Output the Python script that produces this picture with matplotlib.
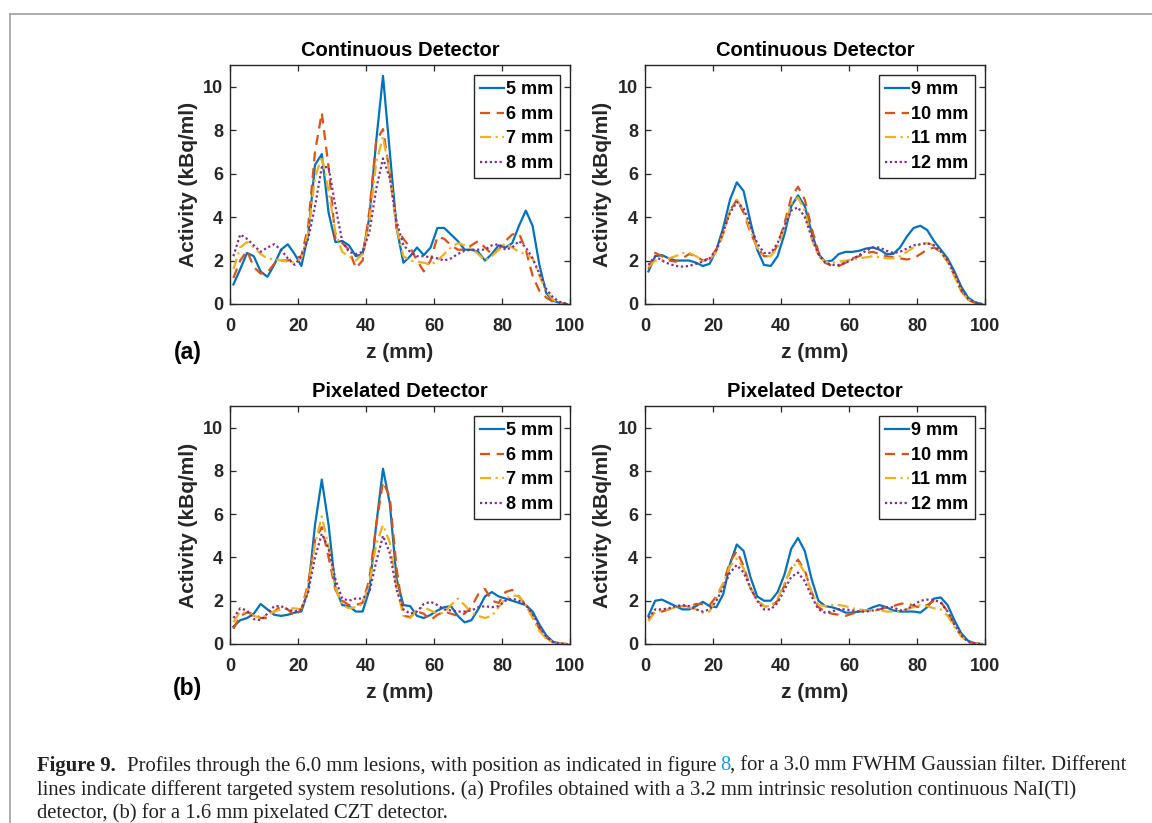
import numpy as np
import matplotlib
matplotlib.use("Agg")
import matplotlib.pyplot as plt
from matplotlib.lines import Line2D

# ---------------- data ----------------
z = list(range(1, 100, 2))  # sample positions (mm)

labels_small = ["5 mm", "6 mm", "7 mm", "8 mm"]
labels_large = ["9 mm", "10 mm", "11 mm", "12 mm"]

cont_5 = [0.9, 1.6, 2.35, 2.2, 1.5, 1.25, 1.8, 2.5, 2.75, 2.3, 1.75, 3.2, 6.4, 6.9, 4.2, 2.85, 2.9, 2.7, 2.2, 2.3,
          4.0, 7.5, 10.5, 7.0, 3.5, 1.9, 2.2, 2.6, 2.25, 2.6, 3.5, 3.5, 3.2, 2.9, 2.5, 2.5, 2.4, 2.0, 2.3, 2.7,
          2.6, 2.8, 3.6, 4.3, 3.6, 1.8, 0.5, 0.15, 0.05, 0.0]
cont_6 = [1.2, 2.0, 2.45, 1.7, 1.4, 1.45, 1.85, 2.0, 2.0, 2.1, 2.2, 3.6, 7.0, 8.8, 6.3, 3.0, 2.8, 2.5, 1.65, 2.0,
          4.3, 7.5, 8.05, 6.0, 3.5, 3.0, 2.6, 2.0, 1.5, 2.0, 3.1, 3.0, 2.7, 2.5, 2.5, 2.7, 2.9, 2.6, 2.3, 2.5,
          2.9, 3.2, 3.25, 2.5, 1.3, 0.6, 0.3, 0.1, 0.03, 0.0]
cont_7 = [1.6, 2.6, 2.85, 2.6, 2.3, 2.1, 2.05, 2.0, 1.95, 1.9, 2.1, 3.3, 5.8, 6.8, 5.2, 3.3, 2.4, 2.2, 2.0, 2.3,
          3.8, 6.5, 7.7, 6.0, 3.5, 2.2, 2.0, 1.95, 1.9, 1.8, 2.0, 2.3, 2.6, 2.8, 2.7, 2.55, 2.3, 2.0, 2.2, 2.5,
          2.8, 2.6, 2.4, 2.3, 2.1, 1.3, 0.6, 0.2, 0.05, 0.0]
cont_8 = [2.2, 3.2, 3.0, 2.7, 2.4, 2.6, 2.75, 2.5, 2.1, 1.8, 2.2, 3.0, 4.5, 6.3, 6.3, 4.5, 2.9, 2.4, 2.3, 2.4,
          3.3, 5.3, 6.7, 5.8, 3.8, 2.7, 2.4, 2.2, 2.2, 2.15, 2.1, 2.0, 2.1, 2.3, 2.45, 2.5, 2.5, 2.5, 2.7, 2.75,
          2.5, 2.6, 2.9, 2.6, 2.1, 1.4, 0.7, 0.3, 0.1, 0.0]

cont_9 = [1.5, 2.2, 2.25, 2.1, 2.0, 2.0, 2.0, 1.9, 1.75, 1.85, 2.5, 3.5, 4.8, 5.6, 5.2, 3.8, 2.5, 1.8, 1.75, 2.2,
          3.2, 4.5, 5.0, 4.5, 3.3, 2.3, 1.95, 2.0, 2.3, 2.4, 2.4, 2.45, 2.55, 2.6, 2.5, 2.3, 2.3, 2.6, 3.1, 3.5,
          3.6, 3.4, 2.9, 2.5, 2.1, 1.5, 0.8, 0.3, 0.08, 0.0]
cont_10 = [1.6, 2.35, 2.2, 2.0, 1.95, 2.1, 2.3, 2.2, 2.0, 2.1, 2.5, 3.3, 4.3, 4.8, 4.2, 3.3, 2.6, 2.2, 2.2, 2.7,
           3.7, 4.9, 5.4, 4.8, 3.5, 2.4, 1.9, 1.75, 1.75, 1.9, 2.1, 2.2, 2.35, 2.4, 2.3, 2.2, 2.15, 2.1, 2.05, 2.1,
           2.3, 2.5, 2.6, 2.4, 2.0, 1.3, 0.6, 0.2, 0.05, 0.0]
cont_11 = [1.7, 2.0, 2.0, 2.1, 2.2, 2.35, 2.35, 2.2, 2.0, 2.05, 2.4, 3.2, 4.3, 4.8, 4.3, 3.4, 2.6, 2.2, 2.2, 2.6,
           3.5, 4.6, 4.9, 4.3, 3.0, 2.2, 1.95, 1.9, 1.95, 2.0, 2.05, 2.1, 2.15, 2.2, 2.15, 2.1, 2.1, 2.2, 2.4, 2.6,
           2.75, 2.8, 2.7, 2.4, 1.9, 1.3, 0.6, 0.2, 0.05, 0.0]
cont_12 = [1.8, 2.2, 2.0, 1.85, 1.75, 1.72, 1.75, 1.85, 1.95, 2.1, 2.5, 3.3, 4.2, 4.7, 4.4, 3.6, 2.8, 2.35, 2.35, 2.8,
           3.6, 4.3, 4.45, 4.0, 3.1, 2.3, 1.9, 1.8, 1.8, 1.9, 2.05, 2.25, 2.45, 2.6, 2.6, 2.45, 2.35, 2.4, 2.55, 2.7,
           2.75, 2.8, 2.7, 2.4, 2.0, 1.4, 0.7, 0.25, 0.07, 0.0]

pix_5 = [0.8, 1.1, 1.2, 1.4, 1.85, 1.6, 1.35, 1.3, 1.35, 1.45, 1.5, 2.5, 5.5, 7.6, 5.5, 2.6, 1.8, 1.75, 1.5, 1.5,
         2.5, 5.5, 8.1, 6.5, 3.0, 1.8, 1.75, 1.3, 1.2, 1.35, 1.55, 1.7, 1.75, 1.3, 1.0, 1.1, 1.6, 2.2, 2.4, 2.2,
         2.1, 2.0, 1.9, 1.8, 1.5, 0.9, 0.4, 0.1, 0.02, 0.0]
pix_6 = [0.7, 1.3, 1.45, 1.4, 1.2, 1.2, 1.5, 1.75, 1.6, 1.3, 1.6, 2.8, 4.8, 5.4, 4.0, 2.5, 2.0, 1.8, 1.8, 1.9,
         3.0, 5.5, 7.5, 6.8, 3.5, 1.3, 1.25, 1.5, 1.4, 1.1, 1.35, 1.5, 1.4, 1.3, 1.4, 1.7, 2.3, 2.55, 2.0, 1.9,
         2.4, 2.5, 2.2, 1.8, 1.3, 0.7, 0.3, 0.08, 0.02, 0.0]
pix_7 = [1.0, 1.5, 1.4, 1.3, 1.2, 1.35, 1.5, 1.6, 1.65, 1.65, 1.6, 2.6, 4.6, 5.9, 4.5, 2.6, 1.8, 1.65, 1.7, 1.85,
         2.8, 4.6, 5.5, 4.7, 2.6, 1.3, 1.2, 1.6, 1.7, 1.55, 1.4, 1.45, 1.8, 2.1, 1.8, 1.45, 1.3, 1.2, 1.3, 1.7,
         2.1, 2.25, 2.2, 1.8, 1.2, 0.6, 0.25, 0.07, 0.02, 0.0]
pix_8 = [1.2, 1.65, 1.55, 1.15, 1.1, 1.4, 1.75, 1.75, 1.6, 1.5, 1.6, 2.4, 4.0, 5.1, 4.4, 3.0, 2.1, 2.0, 2.1, 2.1,
         2.4, 3.8, 5.0, 4.2, 2.5, 1.6, 1.4, 1.5, 1.85, 1.95, 1.8, 1.6, 1.55, 1.5, 1.5, 1.55, 1.7, 1.75, 1.7, 1.75,
         2.0, 2.1, 2.0, 1.8, 1.4, 0.8, 0.35, 0.1, 0.02, 0.0]

pix_9 = [1.3, 2.0, 2.05, 1.9, 1.75, 1.6, 1.6, 1.75, 1.95, 1.75, 1.7, 2.3, 3.7, 4.6, 4.3, 3.1, 2.2, 2.0, 2.0, 2.4,
         3.2, 4.4, 4.9, 4.3, 3.0, 2.0, 1.75, 1.7, 1.6, 1.45, 1.45, 1.5, 1.55, 1.7, 1.8, 1.7, 1.55, 1.5, 1.5, 1.5,
         1.45, 1.7, 2.1, 2.15, 1.8, 1.1, 0.5, 0.15, 0.03, 0.0]
pix_10 = [1.1, 1.5, 1.5, 1.6, 1.7, 1.75, 1.75, 1.85, 1.85, 1.8, 2.2, 2.8, 3.8, 4.3, 3.6, 2.6, 2.0, 1.75, 1.7, 2.0,
          2.7, 3.5, 3.9, 3.4, 2.4, 1.7, 1.5, 1.4, 1.35, 1.3, 1.4, 1.5, 1.55, 1.55, 1.6, 1.7, 1.75, 1.85, 1.9, 1.75,
          1.7, 1.8, 2.0, 1.95, 1.5, 0.9, 0.4, 0.1, 0.02, 0.0]
pix_11 = [1.05, 1.5, 1.55, 1.6, 1.7, 1.75, 1.7, 1.6, 1.45, 1.5, 2.1, 2.8, 3.6, 3.95, 3.5, 2.6, 2.0, 1.75, 1.75, 2.1,
          2.8, 3.5, 3.8, 3.3, 2.4, 1.8, 1.75, 1.8, 1.8, 1.75, 1.65, 1.6, 1.55, 1.55, 1.55, 1.5, 1.5, 1.5, 1.6, 1.7,
          1.8, 1.75, 1.65, 1.6, 1.3, 0.8, 0.35, 0.1, 0.02, 0.0]
pix_12 = [1.2, 1.6, 1.6, 1.65, 1.75, 1.8, 1.75, 1.6, 1.5, 1.6, 2.0, 2.6, 3.3, 3.65, 3.3, 2.6, 2.0, 1.6, 1.6, 1.9,
          2.5, 3.1, 3.3, 2.9, 2.2, 1.6, 1.45, 1.5, 1.6, 1.6, 1.55, 1.5, 1.5, 1.55, 1.6, 1.7, 1.7, 1.55, 1.6, 1.8,
          2.0, 2.05, 2.05, 1.9, 1.5, 0.9, 0.4, 0.1, 0.02, 0.0]

panels = [
    ("Continuous Detector", labels_small, [cont_5, cont_6, cont_7, cont_8]),
    ("Continuous Detector", labels_large, [cont_9, cont_10, cont_11, cont_12]),
    ("Pixelated Detector", labels_small, [pix_5, pix_6, pix_7, pix_8]),
    ("Pixelated Detector", labels_large, [pix_9, pix_10, pix_11, pix_12]),
]

# ---------------- style ----------------
colors = ["#0072BD", "#D95319", "#EDB120", "#7E2F8E"]
styles = ["-", (0, (4.5, 3.0)), (0, (5.0, 2.0, 1.0, 2.0)), (0, (1.0, 1.2))]
AX = "#262626"
FONT = "Liberation Sans"

W, H = 1152, 823
fig = plt.figure(figsize=(W / 100, H / 100), dpi=100)


def rect(l, t, r, b):
    return [l / W, 1 - b / H, (r - l) / W, (b - t) / H]


boxes = [(230, 65, 570, 304), (645, 65, 985, 304), (230, 406, 570, 644), (645, 406, 985, 644)]

for (title, labs, series), box in zip(panels, boxes):
    ax = fig.add_axes(rect(*box))
    for y, lab, c, ls in zip(series, labs, colors, styles):
        ax.plot(z, y, color=c, linestyle=ls, linewidth=1.6, label=lab)
    ax.set_xlim(0, 100)
    ax.set_ylim(0, 11)
    ax.set_xticks([0, 20, 40, 60, 80, 100])
    ax.set_yticks([0, 2, 4, 6, 8, 10])
    ax.tick_params(direction="in", top=True, right=True, length=4, width=0.9, color=AX,
                   labelcolor=AX, labelsize=13)
    ax.tick_params(axis="x", pad=10)
    ax.tick_params(axis="y", pad=5)
    for lab in ax.get_xticklabels() + ax.get_yticklabels():
        lab.set_fontweight("bold")
        lab.set_family(FONT)
    for s in ax.spines.values():
        s.set_color(AX)
        s.set_linewidth(1.0)
    hpx = box[3] - box[1]
    wpx = box[2] - box[0]
    ax.set_title(title, fontsize=14.5, fontweight="bold", family=FONT, color="black",
                 y=1 + 15 / hpx, va="center", pad=0)
    ax.set_xlabel("z (mm)", fontsize=15, fontweight="bold", family=FONT, color=AX)
    ax.xaxis.set_label_coords(0.5, -48 / hpx)
    ax.xaxis.label.set_va("center")
    ax.set_ylabel("Activity (kBq/ml)", fontsize=15, fontweight="bold", family=FONT, color=AX)
    ax.yaxis.set_label_coords(-42 / wpx, 0.5)
    ax.yaxis.label.set_va("center")
    leg = ax.legend(loc="upper right", prop={"family": FONT, "weight": "bold", "size": 13},
                    frameon=True, fancybox=False, framealpha=1, edgecolor=AX,
                    handlelength=1.3, handletextpad=0.15, borderpad=0.35, labelspacing=0.42,
                    borderaxespad=0.55)
    leg.get_frame().set_linewidth(1.0)
    for t in leg.get_texts():
        t.set_color("black")

fig.text(188 / W, 1 - 352 / H, "(a)", fontsize=16.5, fontweight="bold", family=FONT,
         ha="center", va="center")
fig.text(188 / W, 1 - 688 / H, "(b)", fontsize=16.5, fontweight="bold", family=FONT,
         ha="center", va="center")

# frame lines of the page
fig.add_artist(Line2D([9.5 / W, 1], [1 - 13.5 / H, 1 - 13.5 / H], color="#a6a6a6", lw=1.3))
fig.add_artist(Line2D([9.5 / W, 9.5 / W], [0, 1 - 13.5 / H], color="#a6a6a6", lw=1.3))

# ---------------- caption ----------------
SERIF = "Liberation Serif"
TXT = "#231f20"
BLUE = "#1e9bd7"
renderer = fig.canvas.get_renderer()


def width_of(s, size, weight="normal"):
    t = fig.text(0, 0, s, fontsize=size, fontweight=weight, family=SERIF)
    w = t.get_window_extent(renderer=renderer).width
    t.remove()
    return w


line1 = [("Figure 9.", "bold", TXT, 2.2),
         ("Profiles through the 6.0 mm lesions, with position as indicated in figure", "normal", TXT, 0.7),
         ("8", "normal", BLUE, -0.1), (", for a 3.0 mm FWHM Gaussian filter. Different", "normal", TXT, 0)]
line2 = [("lines indicate different targeted system resolutions. (a) Profiles obtained with a 3.2 mm intrinsic resolution continuous NaI(Tl)", "normal", TXT, 0)]
line3 = [("detector, (b) for a 1.6 mm pixelated CZT detector.", "normal", TXT, 0)]

base = 12.0
space = width_of("a a", base) - width_of("aa", base)
total = 0
for s, w, c, g in line1:
    total += width_of(s, base, w) + g * space
size = base * (1088 / total)
space = width_of("a a", size) - width_of("aa", size)


def draw_line(parts, y):
    x = 37.0
    for s, w, c, g in parts:
        t = fig.text(x / W, 1 - y / H, s, fontsize=size, fontweight=w, family=SERIF, color=c,
                     va="center", ha="left")
        x += t.get_window_extent(renderer=renderer).width + g * space


draw_line(line1, 766)
draw_line(line2, 790)
draw_line(line3, 813)

fig.savefig("out.png", dpi=100)
